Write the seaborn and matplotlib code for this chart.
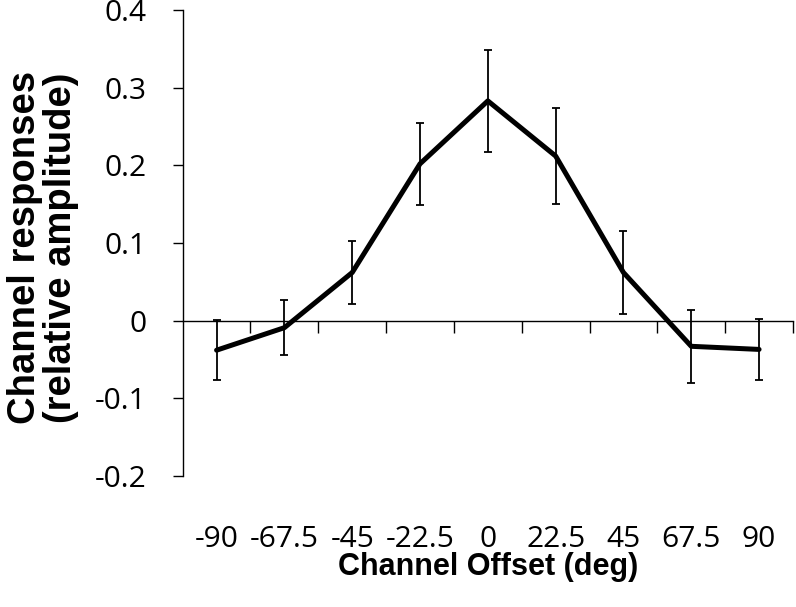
import matplotlib
matplotlib.use("Agg")
import matplotlib.pyplot as plt
import seaborn as sns
import pandas as pd
import numpy as np

offsets = ["-90", "-67.5", "-45", "-22.5", "0", "22.5", "45", "67.5", "90"]
responses = [-0.038, -0.009, 0.062, 0.202, 0.283, 0.212, 0.062, -0.033, -0.037]
errors = [0.039, 0.035, 0.041, 0.053, 0.066, 0.062, 0.053, 0.047, 0.039]
ytick_vals = [-0.2, -0.1, 0, 0.1, 0.2, 0.3, 0.4]
ytick_labels = ["-0.2", "-0.1", "0", "0.1", "0.2", "0.3", "0.4"]

sns.set_theme(style="ticks")
plt.rcParams['font.family'] = ['Open Sans', 'DejaVu Sans']
plt.rcParams['text.color'] = 'black'
plt.rcParams['axes.labelcolor'] = 'black'
plt.rcParams['xtick.color'] = 'black'
plt.rcParams['ytick.color'] = 'black'
plt.rcParams['axes.edgecolor'] = 'black'

fig = plt.figure(figsize=(7.96, 6.07), dpi=100)
ax = fig.add_axes([0.2295, 0.2158, 0.7667, 0.7677])

df = pd.DataFrame({"offset": offsets, "response": responses, "err": errors})
df["pos"] = np.arange(len(df))

sns.lineplot(data=df, x="pos", y="response", color="black", linewidth=3.6, ax=ax)
ax.errorbar(df["pos"], df["response"], yerr=df["err"], fmt="none",
            ecolor="black", elinewidth=1.3, capsize=3.2, capthick=1.3)

ax.set_xlim(-0.5, 8.5)
ax.set_ylim(-0.2, 0.4)
ax.set_yticks(ytick_vals)
ax.set_yticklabels(ytick_labels, fontsize=21.5, color='black')
ax.tick_params(axis='y', direction='out', length=7, width=1, color='black', labelcolor='black', pad=19)

for s in ["top", "right"]:
    ax.spines[s].set_visible(False)
ax.spines["bottom"].set_position(("data", 0))
ax.spines["bottom"].set_color("black")
ax.spines["left"].set_color("black")
ax.spines["bottom"].set_linewidth(1)
ax.spines["left"].set_linewidth(1)

ax.set_xticks([])
ax.set_xticks(np.arange(0.5, 9, 1), minor=True)
ax.tick_params(axis='x', which='minor', direction='out', length=8.5, width=1, color='black')
ax.set_xlabel("")

sec = ax.secondary_xaxis('bottom')
sec.spines['bottom'].set_visible(False)
sec.set_xticks(np.arange(len(offsets)))
sec.set_xticklabels(offsets, fontsize=21.5, color='black')
sec.tick_params(axis='x', length=0, pad=35, labelcolor='black')
sec.set_xlabel("Channel Offset (deg)", fontsize=22, fontweight="bold", color='black',
               family=["Liberation Sans", "DejaVu Sans"], labelpad=-1)

ax.set_ylabel("Channel responses\n(relative amplitude)", fontsize=27.5, fontweight="bold",
              color='black', family=["Liberation Sans", "DejaVu Sans"], linespacing=1.0)
ax.yaxis.set_label_coords(-0.17, 0.49)

fig.savefig("out.png", dpi=100)
